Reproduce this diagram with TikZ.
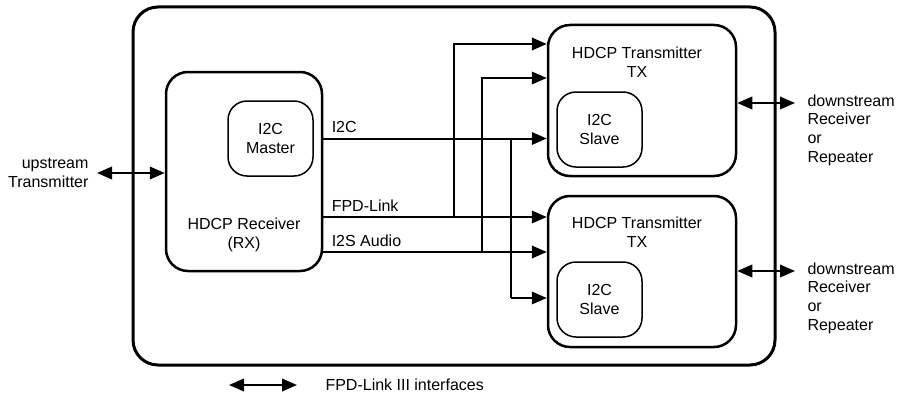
\documentclass[tikz,border=0pt]{standalone}
\usepackage{fontspec}
\setmainfont{Liberation Sans}
\usetikzlibrary{arrows.meta}

\begin{document}
\begin{tikzpicture}[x=1pt,y=-1pt,
	font=\fontsize{16}{18.8}\selectfont,
	board/.style={draw,line width=3pt,rounded corners=25pt,minimum width=642pt,minimum height=358pt},
	unit/.style={draw,line width=2.5pt,rounded corners=22pt},
	sub/.style={draw,line width=1.5pt,rounded corners=19pt,minimum width=85pt,minimum height=75pt,align=center},
	sig/.style={line width=2pt,-{Triangle[length=15pt,width=12.5pt]}},
	wire/.style={line width=2pt},
	fpd/.style={line width=2pt,{Triangle[length=15pt,width=12.5pt]}-{Triangle[length=15pt,width=12.5pt]}},
	lbl/.style={anchor=base west,align=left}]
	\useasboundingbox (0,0) rectangle (901,396);
	\node[board] (board) at (454,186) {};
	\node[unit,minimum width=156pt,minimum height=199pt] (rx) at (244,171.5) {};
	\node[unit,minimum width=188pt,minimum height=151pt] (txa) at (642,100.5) {};
	\node[unit,minimum width=188pt,minimum height=151pt] (txb) at (642,271.5) {};
	\node[sub] (master) at (270.5,138.5) {I2C\\Master};
	\node[sub] (slavea) at (599.5,129.5) {I2C\\Slave};
	\node[sub] (slaveb) at (599.5,299.5) {I2C\\Slave};
	\node[align=center] (rxname) at (244,235) {HDCP Receiver\\(RX)};
	\node[align=center] (txaname) at (637,62) {HDCP Transmitter\\TX};
	\node[align=center] (txbname) at (637,232) {HDCP Transmitter\\TX};

	\coordinate (fpd) at (rx.east |- 0,217);
	\coordinate (aud) at (rx.east |- 0,252);
	\draw[sig] (rx.east |- master) -- (txa.west |- master);
	\draw[sig] (fpd) -- (txb.west |- fpd);
	\draw[sig] (aud) -- (txb.west |- aud);
	\draw[wire] (511,139) -- (511,298);
	\draw[sig] (511,298) -- (txb.west |- 0,298);
	\draw[sig] (454,217) |- (txa.west |- 0,44);
	\draw[sig] (482,252) |- (txa.west |- 0,78);
	\node[lbl] (i2clbl) at ([xshift=5pt,yshift=6pt]rx.east |- master) {I2C};
	\node[lbl] (fpdlbl) at ([xshift=5pt,yshift=6pt]fpd) {FPD-Link};
	\node[lbl] (audlbl) at ([xshift=5pt,yshift=6pt]aud) {I2S Audio};

	\node[anchor=east,align=right] (up) at (92,173) {upstream\\Transmitter};
	\draw[fpd] ([xshift=5pt]up.east) -- (rx.west |- up.east);
	\node[anchor=north west,align=left] (dsa) at (804,91) {downstream\\Receiver\\or\\Repeater};
	\node[anchor=north west,align=left] (dsb) at (804,259) {downstream\\Receiver\\or\\Repeater};
	\draw[fpd] (txa.east |- 0,103) -- ([xshift=-9pt]dsa.north west |- 0,103);
	\draw[fpd] (txb.east |- 0,271) -- ([xshift=-9pt]dsb.north west |- 0,271);

	\node[anchor=west] (legend) at (322,385) {FPD-Link III interfaces};
	\draw[fpd] ([xshift=-93pt]legend.west) -- ([xshift=-25pt]legend.west);
\end{tikzpicture}
\end{document}
